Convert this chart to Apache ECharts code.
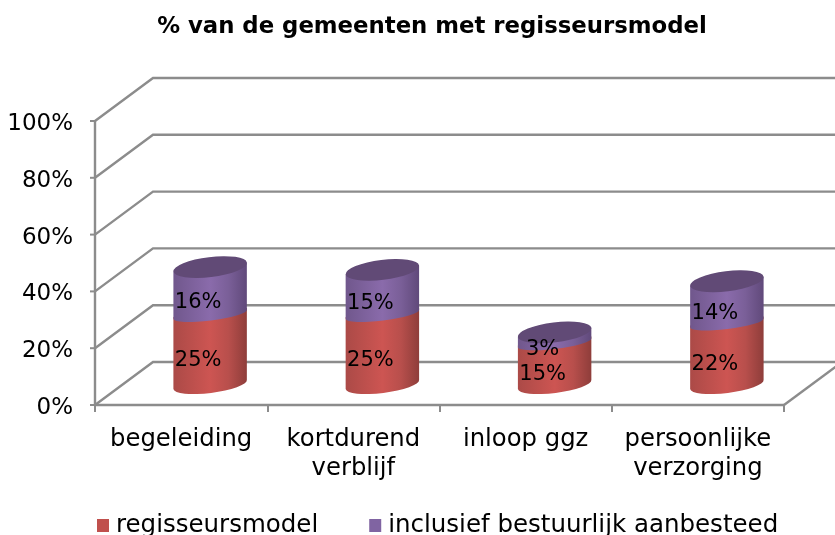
<!DOCTYPE html>
<html>
<head>
<meta charset="utf-8">
<style>
html, body { margin: 0; padding: 0; background: #fff; overflow: hidden; }
#chart { width: 835px; height: 535px; }
</style>
<script src="https://cdn.jsdelivr.net/npm/echarts@6/dist/echarts.min.js"></script>
</head>
<body>
<div id="chart"></div>
<script>
var categories = ['begeleiding', 'kortdurend\nverblijf', 'inloop ggz', 'persoonlijke\nverzorging'];
var regisseursmodel = [25, 25, 15, 22];
var aanbesteed = [16, 15, 3, 14];
var yTicks = [0, 20, 40, 60, 80, 100];

var FONT = '"DejaVu Sans", sans-serif';
var LINE = '#8c8c8c';
// oblique depth of the fake 3d box
var DEPTH_X = 58, DEPTH_Y = -43;
// cylinder ellipse
var RX = 37, CAP_RY = 10, TILT = 7 * Math.PI / 180;

var chart = echarts.init(document.getElementById('chart'));

function lineEl(points, width) {
    return {
        type: 'polyline',
        shape: { points: points },
        style: { fill: null, stroke: LINE, lineWidth: width }
    };
}

function straightEl(x1, y1, x2, y2, width) {
    return {
        type: 'line',
        shape: { x1: x1, y1: y1, x2: x2, y2: y2 },
        style: { stroke: LINE, lineWidth: width }
    };
}

function wallLine(params, api) {
    var v = api.value(1);
    var band = api.size([1, 0])[0];
    var left = api.coord([0, v]);
    var x0 = left[0] - band / 2, y0 = left[1];
    var back = [x0 + DEPTH_X, y0 + DEPTH_Y];
    var end = [back[0] + 700, back[1]];
    var children = [
        lineEl([[x0, y0], back, end], 2.4),
        straightEl(x0 - 5, y0, x0, y0, 2)
    ];
    if (v === 0) {
        // floor right side and the value axis itself
        var right = [x0 + band * categories.length, y0];
        var top = api.coord([0, yTicks[yTicks.length - 1]]);
        children.push(lineEl([right, [right[0] + DEPTH_X, right[1] + DEPTH_Y]], 2.4));
        children.push(straightEl(x0, y0, x0, top[1], 2.4));
    }
    return { type: 'group', silent: true, children: children };
}

function ends(cx, cy) {
    var dx = RX * Math.cos(TILT), dy = RX * Math.sin(TILT);
    return { l: [cx - dx, cy + dy], r: [cx + dx, cy - dy] };
}

function arc(to, ry, sweep) {
    return 'A' + RX + ' ' + ry + ' -7 0 ' + sweep + ' ' + to[0] + ' ' + to[1];
}

function gradient(stops) {
    return {
        type: 'linear', x: 0, y: 0, x2: 1, y2: 0,
        colorStops: [
            { offset: 0, color: stops[0] },
            { offset: 0.5, color: stops[1] },
            { offset: 0.75, color: stops[2] },
            { offset: 1, color: stops[3] }
        ]
    };
}

function cylinder(stops, bottomRy, bottomShift, capColor) {
    return function (params, api) {
        var from = api.value(1), to = api.value(2);
        var p0 = api.coord([api.value(0), from]);
        var p1 = api.coord([api.value(0), to]);
        var cx = p0[0] + DEPTH_X / 2;
        var b = ends(cx, p0[1] + DEPTH_Y / 2 + bottomShift);
        var t = ends(cx, p1[1] + DEPTH_Y / 2);
        // top edge is a straight chord, the piece above or the cap covers it
        var body = 'M' + t.l[0] + ' ' + t.l[1] + 'L' + t.r[0] + ' ' + t.r[1] +
            'L' + b.r[0] + ' ' + b.r[1] + arc(b.l, bottomRy, 1) + 'Z';
        var children = [{
            type: 'path',
            shape: { pathData: body },
            style: { fill: gradient(stops) }
        }];
        if (capColor) {
            children.push({
                type: 'path',
                shape: { pathData: 'M' + t.l[0] + ' ' + t.l[1] + arc(t.r, CAP_RY, 1) + arc(t.l, CAP_RY, 1) + 'Z' },
                style: { fill: capColor }
            });
        }
        children.push({
            type: 'text',
            z2: 10,
            style: {
                text: (to - from) + '%',
                x: p0[0] + 17,
                y: (p0[1] + p1[1]) / 2 - 9,
                align: 'center',
                verticalAlign: 'middle',
                fill: '#000',
                font: '21px ' + FONT
            }
        });
        return { type: 'group', children: children };
    };
}

var lower = regisseursmodel.map(function (v, i) { return [i, 0, v]; });
var upper = aanbesteed.map(function (v, i) { return [i, regisseursmodel[i], regisseursmodel[i] + v]; });

chart.setOption({
    animation: false,
    title: {
        text: '% van de gemeenten met regisseursmodel',
        left: 427,
        top: 11,
        textAlign: 'center',
        textStyle: { fontFamily: FONT, fontSize: 22.8, fontWeight: 'bold', color: '#000' }
    },
    legend: {
        left: 92,
        top: 508,
        itemWidth: 12,
        itemHeight: 13,
        itemGap: 51,
        icon: 'rect',
        data: ['regisseursmodel', 'inclusief bestuurlijk aanbesteed'],
        textStyle: { fontFamily: FONT, fontSize: 24.5, color: '#000', padding: [0, 0, 0, 2] }
    },
    grid: { left: 95, right: 51, top: 121, bottom: 130 },
    xAxis: {
        type: 'category',
        data: categories,
        axisLine: { show: true, lineStyle: { color: LINE, width: 2.4 } },
        axisTick: { show: true, length: 7, lineStyle: { color: LINE, width: 2 } },
        axisLabel: { fontFamily: FONT, fontSize: 24.3, color: '#000', margin: 20, lineHeight: 29, interval: 0 }
    },
    yAxis: {
        type: 'value',
        min: 0,
        max: 100,
        interval: 20,
        splitLine: { show: false },
        axisLine: { show: false },
        axisTick: { show: false },
        axisLabel: {
            formatter: '{a|{value}%}',
            margin: 22,
            rich: { a: { fontFamily: FONT, fontSize: 23, color: '#000', padding: [6, 0, 0, 0] } }
        }
    },
    series: [{
        type: 'custom',
        name: 'wall',
        clip: false,
        z: 1,
        silent: true,
        encode: { x: 0, y: 1 },
        data: yTicks.map(function (v) { return [0, v]; }),
        renderItem: wallLine
    }, {
        type: 'custom',
        name: 'regisseursmodel',
        clip: false,
        z: 3,
        itemStyle: { color: '#c0504d' },
        encode: { x: 0, y: 2 },
        data: lower,
        renderItem: cylinder(['#ab4a47', '#cd5552', '#b84f4c', '#8e3d3a'], 8.5, 1)
    }, {
        type: 'custom',
        name: 'inclusief bestuurlijk aanbesteed',
        clip: false,
        z: 4,
        itemStyle: { color: '#8064a2' },
        encode: { x: 0, y: 2 },
        data: upper,
        renderItem: cylinder(['#70578c', '#8a6bab', '#7a5f98', '#60497a'], 6, 2, '#614a76')
    }]
});
</script>
</body>
</html>
